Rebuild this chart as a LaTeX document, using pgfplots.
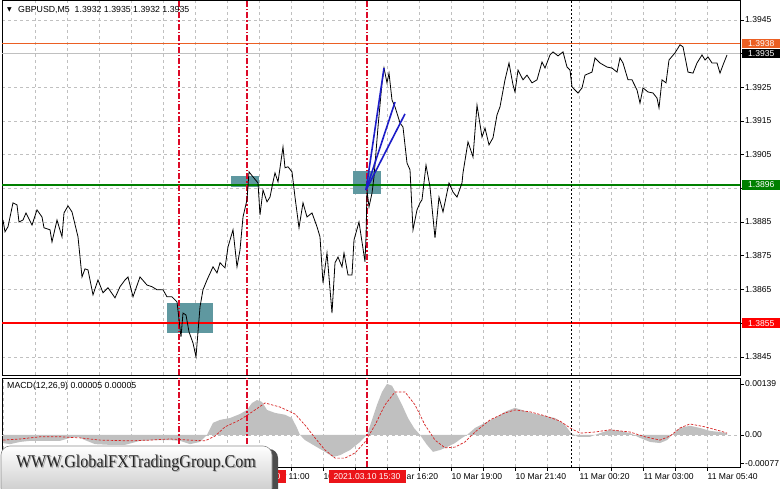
\documentclass[border=0pt]{standalone}
\usepackage{pgfplots}
\pgfplotsset{compat=1.18}
\usepackage{graphicx}
\usepackage{fontspec}
\setmainfont{Liberation Sans}
\newfontfamily\wmfont{Liberation Serif}
\newfontfamily\symfont{DejaVu Sans}
\definecolor{gridc}{RGB}{192,192,192}
\definecolor{vlinered}{RGB}{220,10,40}
\definecolor{orng}{RGB}{235,95,35}
\definecolor{grn}{RGB}{0,128,0}
\definecolor{boxteal}{RGB}{95,152,160}
\definecolor{fanblue}{RGB}{30,30,200}
\definecolor{histc}{RGB}{192,192,192}
\definecolor{sigc}{RGB}{215,35,35}
\definecolor{lblred}{RGB}{235,20,25}
\newcommand{\sm}{\fontsize{8.6}{10}\selectfont}
\pgfplotsset{mt/.style={
  scale only axis, width=738bp, xmin=2, xmax=740, clip=false,
  axis line style={black, line width=0.9bp},
  tick align=outside, ytick pos=right, yticklabel pos=right,
  major tick length=4bp, tick style={black, line width=0.6bp},
  ticklabel style={font=\sm, text=black},
  yticklabel style={anchor=west, inner xsep=1bp},
  scaled y ticks=false, scaled x ticks=false,
  xmajorgrids=true,
  major grid style={gridc, dash pattern=on 3bp off 3bp, line width=0.6bp},
}}
\tikzset{vl/.style={draw=vlinered, line width=1.1bp, dash pattern=on 6bp off 2bp on 1.5bp off 2bp}}
\begin{document}
\begin{tikzpicture}
\fill[white] (0bp,0bp) rectangle (781bp,489bp);
% ---------------- main price panel
\begin{axis}[mt,
  at={(2bp,114bp)}, anchor=south west, height=375bp,
  ymin=1.38396, ymax=1.39509,
  ymajorgrids=true,
  xtick={35.5,67.5,...,707.5}, xticklabels={}, xtick style={draw=none},
  ytick={1.3845,1.3855,1.3865,1.3875,1.3885,1.3895,1.3905,1.3915,1.3925,1.3935,1.3945},
  yticklabels={1.3845,,1.3865,1.3875,1.3885,,1.3905,1.3915,1.3925,,1.3945},
]
% rectangles
\addplot[fill=boxteal, draw=none] coordinates {(167,1.38610)(213,1.38610)(213,1.38521)(167,1.38521)};
\addplot[fill=boxteal, draw=none] coordinates {(231,1.38987)(259,1.38987)(259,1.38954)(231,1.38954)};
\addplot[fill=boxteal, draw=none] coordinates {(353,1.39002)(381,1.39002)(381,1.38933)(353,1.38933)};
% horizontal levels
\addplot[gridc, line width=1bp] coordinates {(2,1.3935)(740,1.3935)};
\addplot[orng, line width=1.1bp] coordinates {(2,1.3938)(740,1.3938)};
\addplot[grn, line width=1.8bp] coordinates {(2,1.3896)(740,1.3896)};
\addplot[red, line width=1.8bp] coordinates {(2,1.3855)(740,1.3855)};
% vertical lines
\addplot[vl] coordinates {(179,1.38396)(179,1.39509)};
\addplot[vl] coordinates {(247,1.38396)(247,1.39509)};
\addplot[vl] coordinates {(367,1.38396)(367,1.39509)};
\addplot[black, line width=0.8bp, dash pattern=on 2bp off 2bp] coordinates {(571,1.38396)(571,1.39509)};
% price
\addplot[black, line width=0.8bp] coordinates {
(3,1.38856)(5,1.38821)(8,1.38836)(13,1.38907)(17,1.38901)(19,1.38850)(23,1.38856)(26,1.38877)
(32,1.38841)(37,1.38886)(42,1.38865)(44,1.38833)(50,1.38827)(52,1.38791)(57,1.38856)(62,1.38806)
(64,1.38877)(68,1.38898)(72,1.38880)(78,1.38806)(82,1.38687)(85,1.38711)(88,1.38708)(93,1.38634)
(98,1.38678)(103,1.38640)(108,1.38655)(115,1.38625)(120,1.38658)(125,1.38678)(128,1.38687)(133,1.38628)
(140,1.38687)(147,1.38663)(152,1.38658)(157,1.38649)(163,1.38649)(167,1.38628)(172,1.38628)(177,1.38613)
(181,1.38509)(183,1.38580)(186,1.38574)(189,1.38524)(193,1.38491)(196,1.38450)(200,1.38598)(203,1.38649)
(207,1.38678)(213,1.38717)(217,1.38699)(220,1.38729)(225,1.38714)(228,1.38776)(233,1.38827)(237,1.38717)
(240,1.38767)(243,1.38865)(247,1.38916)(249,1.38999)(253,1.38984)(258,1.38966)(260,1.38871)(263,1.38945)
(267,1.38910)(270,1.38924)(273,1.38969)(275,1.38996)(278,1.38969)(283,1.39073)(285,1.39011)(288,1.39014)
(292,1.38999)(295,1.38924)(299,1.38833)(303,1.38907)(307,1.38865)(312,1.38877)(317,1.38836)(320,1.38806)
(323,1.38669)(327,1.38758)(332,1.38580)(335,1.38729)(338,1.38746)(342,1.38717)(344,1.38758)(348,1.38693)
(352,1.38693)(354,1.38797)(359,1.38850)(365,1.38732)(366,1.38806)(367,1.38945)(369,1.38895)(372,1.38936)
(374,1.38984)(378,1.39132)(382,1.39263)(384,1.39307)(387,1.39263)(389,1.39292)(392,1.39212)(395,1.39192)
(400,1.39144)(403,1.39132)(407,1.39025)(410,1.39005)(413,1.38827)(417,1.38886)(420,1.38907)(422,1.38916)
(426,1.39019)(430,1.38954)(435,1.38803)(439,1.38924)(443,1.38880)(449,1.38966)(453,1.38939)(457,1.38924)
(462,1.38966)(463,1.38996)(468,1.39088)(473,1.39043)(477,1.39197)(482,1.39102)(485,1.39129)(489,1.39079)
(493,1.39100)(497,1.39168)(500,1.39192)(505,1.39272)(509,1.39322)(513,1.39257)(515,1.39236)(518,1.39301)
(523,1.39272)(527,1.39286)(532,1.39263)(537,1.39272)(542,1.39325)(545,1.39307)(550,1.39346)(553,1.39355)
(558,1.39343)(563,1.39355)(567,1.39310)(570,1.39301)(572,1.39251)(575,1.39242)(578,1.39233)(582,1.39248)
(585,1.39286)(592,1.39295)(595,1.39337)(600,1.39322)(607,1.39310)(612,1.39307)(617,1.39295)(620,1.39337)
(623,1.39322)(628,1.39272)(632,1.39272)(637,1.39242)(640,1.39203)(643,1.39248)(648,1.39236)(653,1.39233)
(657,1.39218)(659,1.39189)(662,1.39272)(666,1.39263)(669,1.39331)(675,1.39352)(680,1.39376)(683,1.39370)
(688,1.39295)(693,1.39292)(697,1.39322)(702,1.39346)(705,1.39331)(708,1.39340)(712,1.39322)(717,1.39322)
(720,1.39292)(723,1.39316)(727,1.39346)};
% fan
\addplot[fanblue, line width=1.6bp] coordinates {(366,1.38945)(384,1.39307)};
\addplot[fanblue, line width=1.6bp] coordinates {(366,1.38945)(395,1.39206)};
\addplot[fanblue, line width=1.6bp] coordinates {(366,1.38945)(405,1.39171)};
% price labels
\node[fill=orng, text=white, font=\sm, inner sep=0pt, minimum width=38bp, minimum height=9.5bp, anchor=west] at (axis cs:742,1.3938) {1.3938};
\node[fill=black, text=white, font=\sm, inner sep=0pt, minimum width=38bp, minimum height=9.5bp, anchor=west] at (axis cs:742,1.3935) {1.3935};
\node[fill=grn, text=white, font=\sm, inner sep=0pt, minimum width=38bp, minimum height=10bp, anchor=west] at (axis cs:742,1.3896) {1.3896};
\node[fill=red, text=white, font=\sm, inner sep=0pt, minimum width=38bp, minimum height=10bp, anchor=west] at (axis cs:742,1.3855) {1.3855};
\end{axis}
% ---------------- MACD panel
\begin{axis}[mt,
  at={(2bp,22bp)}, anchor=south west, height=89bp,
  ymin=-0.000872, ymax=0.00155,
  xtick={3.5,35.5,...,707.5},
  xtick pos=bottom,
  xticklabels={10 Mar 00:20,,10 Mar 03:00,,10 Mar 05:40,,10 Mar 08:20,,10 Mar 11:00,,10 Mar 13:40,,10 Mar 16:20,,10 Mar 19:00,,10 Mar 21:40,,11 Mar 00:20,,11 Mar 03:00,,11 Mar 05:40},
  xticklabel style={anchor=north west, inner sep=0pt, yshift=-2bp},
  ytick={-0.00077,0,0.00139},
  yticklabels={-0.00077,0.00,0.00139},
]
\addplot[gridc, dash pattern=on 3bp off 3bp, line width=0.6bp] coordinates {(2,0)(740,0)};
\addplot[fill=histc, draw=none] coordinates {
(3,0)(3,-0.00022)(10,-0.00025)(20,-0.00019)(30,-0.00016)(40,-0.00016)(50,-0.00016)(60,-0.00016)
(70,-0.00008)(78,-0.00005)(85,-0.00014)(95,-0.00025)(110,-0.00027)(125,-0.00027)(140,-0.00016)
(155,-0.00014)(170,-0.00014)(180,-0.00016)(190,-0.00025)(200,-0.00019)(207,0)(213,0.00033)
(220,0.00041)(230,0.00046)(240,0.00057)(247,0.00068)(252,0.00087)(257,0.00095)(262,0.00090)
(267,0.00068)(275,0.00060)(285,0.00055)(292,0.00046)(297,0.00019)(300,0)(305,-0.00014)
(315,-0.00030)(325,-0.00046)(333,-0.00060)(340,-0.00055)(350,-0.00041)(360,-0.00019)(367,0)
(372,0.00041)(377,0.00082)(382,0.00117)(387,0.00139)(392,0.00134)(397,0.00109)(402,0.00082)
(408,0.00046)(414,0.00019)(420,0)(427,-0.00027)(433,-0.00046)(440,-0.00041)(447,-0.00033)
(455,-0.00022)(462,-0.00008)(467,0)(475,0.00019)(485,0.00033)(495,0.00046)(505,0.00063)
(515,0.00074)(525,0.00065)(535,0.00057)(545,0.00052)(555,0.00046)(565,0.00027)(571,0.00005)
(578,-0.00005)(590,-0.00005)(600,0.00005)(610,0.00014)(620,0.00011)(630,0.00005)(640,-0.00008)
(650,-0.00019)(660,-0.00022)(667,-0.00014)(673,0.00003)(680,0.00019)(690,0.00025)(700,0.00019)
(710,0.00011)(720,0.00008)(727,0.00005)(727,0)};
\addplot[sigc, line width=0.7bp, dash pattern=on 2.5bp off 1.5bp] coordinates {
(3,-0.00014)(20,-0.00011)(40,-0.00005)(60,-0.00005)(80,-0.00008)(100,-0.00014)(130,-0.00016)
(150,-0.00014)(170,-0.00011)(190,-0.00014)(205,-0.00016)(215,-0.00003)(225,0.00022)(240,0.00041)
(255,0.00068)(265,0.00087)(280,0.00076)(295,0.00057)(305,0.00027)(315,-0.00008)(325,-0.00041)
(335,-0.00063)(345,-0.00063)(355,-0.00049)(365,-0.00019)(375,0.00027)(385,0.00082)(395,0.00117)
(405,0.00117)(415,0.00082)(425,0.00027)(435,-0.00014)(445,-0.00035)(455,-0.00033)(465,-0.00019)
(475,0.00008)(490,0.00041)(505,0.00060)(515,0.00068)(530,0.00063)(545,0.00052)(560,0.00038)
(570,0.00019)(580,0.00005)(595,0.00008)(610,0.00014)(630,0.00008)(645,-0.00005)(660,-0.00014)
(670,-0.00003)(680,0.00019)(690,0.00030)(705,0.00022)(720,0.00011)(727,0.00005)};
\addplot[vl] coordinates {(179,-0.000872)(179,0.00155)};
\addplot[vl] coordinates {(247,-0.000872)(247,0.00155)};
\addplot[vl] coordinates {(367,-0.000872)(367,0.00155)};
\addplot[black, line width=0.8bp, dash pattern=on 2bp off 2bp] coordinates {(571,-0.000872)(571,0.00155)};
\end{axis}
% ---------------- annotations
\node[anchor=west, inner sep=0pt] at (7bp,479bp) {\symfont\fontsize{6}{6}\selectfont ▼};
\node[anchor=west, inner sep=0pt, font=\fontsize{8.8}{10}\selectfont] at (18bp,479bp) {GBPUSD,M5\ \ 1.3932 1.3935 1.3932 1.3935};
\node[anchor=west, inner sep=0pt, font=\fontsize{8.8}{10}\selectfont] at (7bp,103bp) {MACD(12,26,9) 0.00005 0.00005};
\foreach \xx/\tt in {179/07:40,247/10:30,367/15:30}{
  \node[fill=lblred, text=white, font=\sm, inner sep=0pt, minimum width=77bp, minimum height=13bp] at (\xx bp,12bp) {2021.03.10 \tt};
}
% watermark
\fill[black!70, rounded corners=9bp] (5bp,40bp) rectangle (278bp,-12bp);
\shade[top color=white, bottom color=black!22, rounded corners=9bp, draw=black!45, line width=0.6bp] (1bp,43bp) rectangle (272bp,-8bp);
\node[text=black!35] at (137.2bp,24.8bp) {\scalebox{0.9}[1]{\wmfont\fontsize{18}{18}\selectfont WWW.GlobalFXTradingGroup.Com}};
\node[text=black!85] at (136bp,26bp) {\scalebox{0.9}[1]{\wmfont\fontsize{18}{18}\selectfont WWW.GlobalFXTradingGroup.Com}};
\pgfresetboundingbox
\path[use as bounding box] (0bp,0bp) rectangle (781bp,489bp);
\end{tikzpicture}
\end{document}
